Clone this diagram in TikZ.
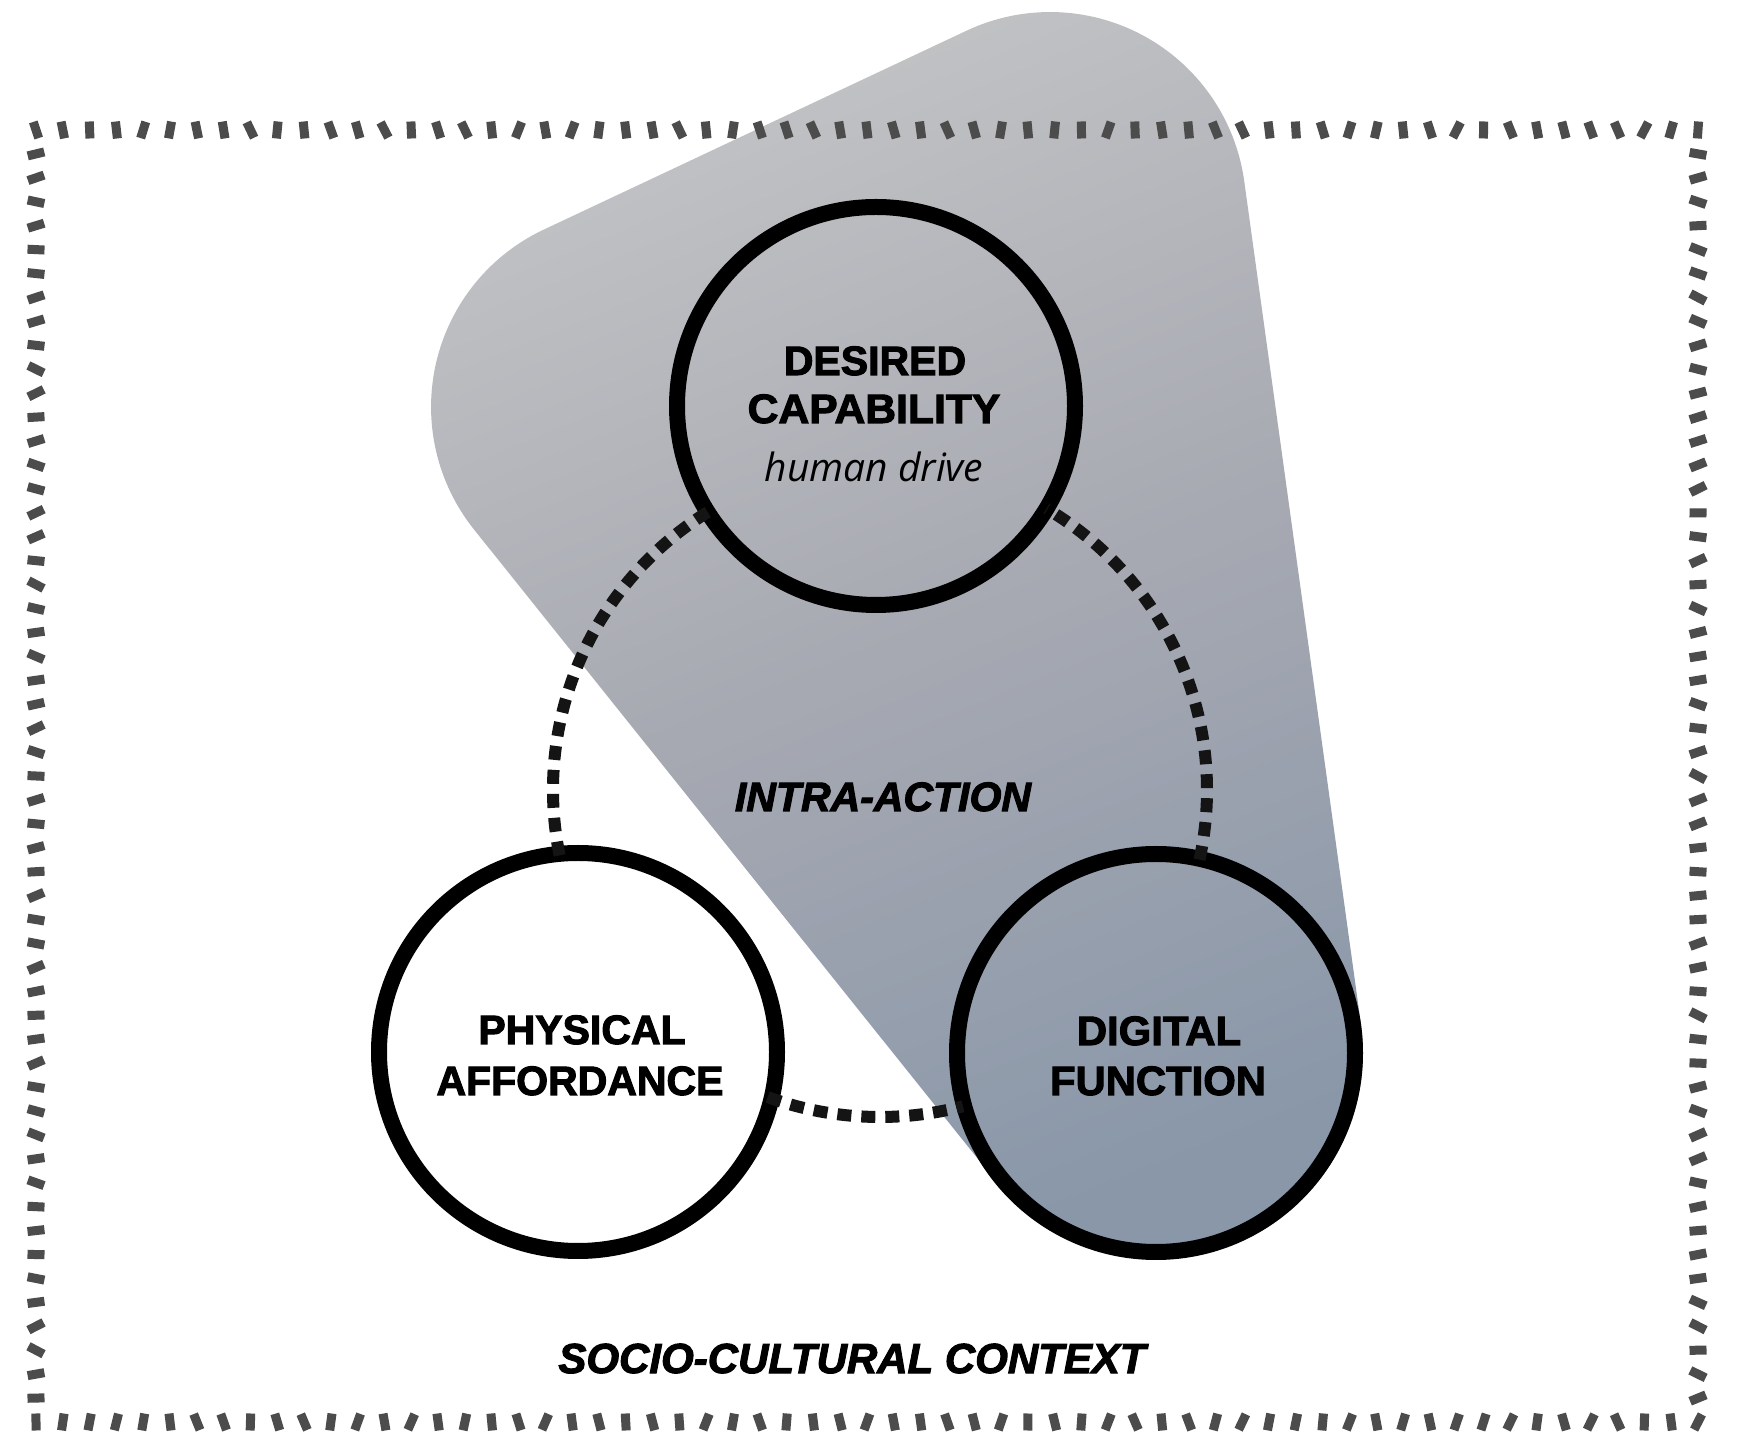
\documentclass[tikz,border=0pt]{standalone}
\usepackage{fontspec}
\usepackage{graphicx}
\setmainfont{Liberation Sans}
\newfontfamily\heavyface{Liberation Sans}[UprightFont={* Bold}, ItalicFont={* Bold Italic}, UprightFeatures={FakeBold=2.5}, ItalicFeatures={FakeBold=2.5}]
\newfontfamily\driveface{Open Sans}
\definecolor{hullTop}{RGB}{194,195,197}
\definecolor{hullMid}{RGB}{167,169,178}
\definecolor{hullBot}{RGB}{137,151,169}
\begin{document}
\begin{tikzpicture}[x=0.5pt,y=0.5pt,
  ring/.style={circle, draw=black, line width=8pt, minimum size=199pt, inner sep=0pt},
  link/.style={draw=black!92, line width=6pt, dash pattern=on 7pt off 5pt},
  bordermark/.style={fill=black!70},
  lbl/.style={font=\fontsize{20.5}{24}\selectfont\heavyface, inner sep=0pt, anchor=base},
  hint/.style={font=\fontsize{19.5}{23}\selectfont\driveface\itshape, inner sep=0pt, anchor=base},
  tag/.style={font=\fontsize{20.5}{24}\selectfont\heavyface\itshape, inner sep=0pt, anchor=base}]

% canvas
\fill[white] (0,0) rectangle (1757,1452);
\useasboundingbox (0,0) rectangle (1757,1452);

% shaded hull around the capability and function circles
\shade[top color=hullTop, bottom color=hullBot, middle color=hullMid, shading angle=22]
  (966.6,1421.3) -- (543.6,1222.3)
  arc[start angle=115.2, end angle=218.7, radius=196]
  -- (996.2,270.2)
  arc[start angle=218.7, end angle=367.9, radius=206]
  -- (1244.2,1270.9)
  arc[start angle=7.9, end angle=115.2, radius=196] -- cycle;

% hand-made dashed frame
\pgfmathsetseed{11}
\foreach \i in {0,...,62}{
  \pgfmathsetmacro\px{36+\i*26.806}
  \pgfmathsetmacro\ra{rand*28}
  \pgfmathsetmacro\rb{rand*28}
  \fill[bordermark,shift={(\px,1322)},rotate=\ra] (-4.5,-8.5) rectangle (4.5,8.5);
  \fill[bordermark,shift={(\px,30)},rotate=\rb] (-4.5,-8.5) rectangle (4.5,8.5);
}
\foreach \i in {1,...,53}{
  \pgfmathsetmacro\py{30+\i*23.926}
  \pgfmathsetmacro\ra{rand*28}
  \pgfmathsetmacro\rb{rand*28}
  \fill[bordermark,shift={(36,\py)},rotate=\ra] (-8.5,-4.5) rectangle (8.5,4.5);
  \fill[bordermark,shift={(1698,\py)},rotate=\rb] (-8.5,-4.5) rectangle (8.5,4.5);
}

% the three circles
\node[ring] (dc) at (876,1046) {};
\node[ring] (pa) at (578,400) {};
\node[ring] (df) at (1156,399) {};

% dashed links along a common ring
\coordinate (ringc) at (880,662);
\draw[link] ([shift={(121.8:327)}]ringc) arc[start angle=121.8, end angle=192.0, radius=327];
\draw[link] ([shift={(249.9:327)}]ringc) arc[start angle=249.9, end angle=284.7, radius=327];
\draw[link] ([shift={(347.7:327)}]ringc) arc[start angle=347.7, end angle=419.4, radius=327];

% labels
\node[lbl] (dc1) at (875,1077) {DESIRED};
\node[lbl] (dc2) at (874,1029) {\scalebox{1.04}[1]{CAPABILITY}};
\node[hint] (dc3) at (874,970) {human drive};
\node[lbl] (pa1) at (582,408) {PHYSICAL};
\node[lbl] (pa2) at (580,357) {AFFORDANCE};
\node[lbl] (df1) at (1159,407) {\scalebox{1.02}[1]{DIGITAL}};
\node[lbl] (df2) at (1158,357) {\scalebox{1.02}[1]{FUNCTION}};
\node[tag] (ia) at (883,641) {INTRA-ACTION};
\node[tag, font=\fontsize{21}{25}\selectfont\heavyface\itshape] (sc) at (852,79) {SOCIO-CULTURAL CONTEXT};
\end{tikzpicture}
\end{document}
